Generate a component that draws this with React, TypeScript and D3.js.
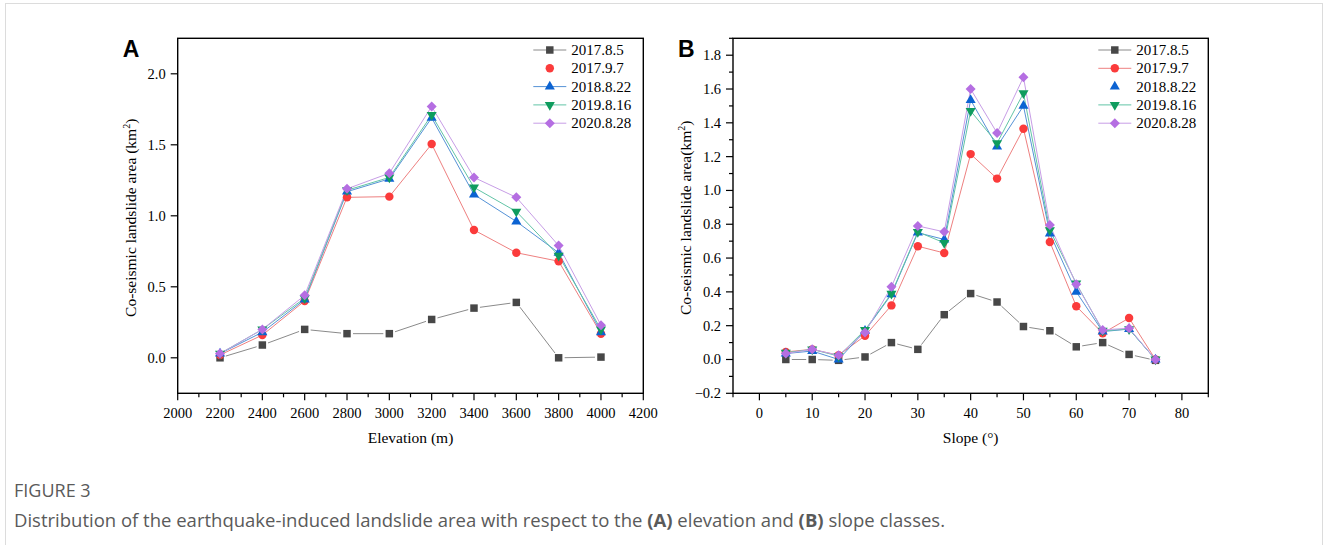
import * as d3 from 'd3';

// x categories
const elevation = [2200, 2400, 2600, 2800, 3000, 3200, 3400, 3600, 3800, 4000];
const slope = [5, 10, 15, 20, 25, 30, 35, 40, 45, 50, 55, 60, 65, 70, 75];

const dates = ['2017.8.5', '2017.9.7', '2018.8.22', '2019.8.16', '2020.8.28'];

// panel A: area by elevation (km2)
const elev20170805 = [0.0, 0.09, 0.2, 0.17, 0.17, 0.27, 0.35, 0.39, 0.0, 0.005];
const elev20170907 = [0.02, 0.16, 0.4, 1.13, 1.135, 1.505, 0.9, 0.74, 0.68, 0.17];
const elev20180822 = [0.03, 0.18, 0.41, 1.17, 1.26, 1.69, 1.15, 0.96, 0.74, 0.18];
const elev20190816 = [0.03, 0.2, 0.42, 1.18, 1.27, 1.71, 1.2, 1.03, 0.72, 0.2];
const elev20200828 = [0.03, 0.2, 0.44, 1.19, 1.3, 1.77, 1.27, 1.13, 0.79, 0.23];

// panel B: area by slope (km2)
const slope20170805 = [0.0, 0.0, -0.005, 0.015, 0.1, 0.06, 0.265, 0.39, 0.34, 0.195, 0.17, 0.075, 0.1, 0.03, -0.005];
const slope20170907 = [0.045, 0.06, 0.025, 0.14, 0.32, 0.67, 0.63, 1.215, 1.07, 1.365, 0.695, 0.315, 0.155, 0.245, 0.0];
const slope20180822 = [0.035, 0.05, 0.0, 0.17, 0.385, 0.75, 0.71, 1.535, 1.26, 1.5, 0.745, 0.4, 0.165, 0.18, 0.0];
const slope20190816 = [0.04, 0.06, 0.02, 0.175, 0.39, 0.755, 0.69, 1.47, 1.28, 1.575, 0.765, 0.45, 0.17, 0.18, 0.0];
const slope20200828 = [0.035, 0.06, 0.025, 0.16, 0.43, 0.79, 0.755, 1.6, 1.34, 1.67, 0.795, 0.445, 0.175, 0.185, 0.0];

const elevTicks = d3.range(2000, 4201, 200);
const slopeTicks = d3.range(0, 81, 10);

const styles = [
  { marker: 'square', fill: '#474747', line: '#8a8a8a', gap: 6 },
  { marker: 'circle', fill: '#fb3b3b', line: '#ee8080', gap: 0 },
  { marker: 'triUp', fill: '#0c63d2', line: '#5592d6', gap: 0 },
  { marker: 'triDown', fill: '#0f9c5e', line: '#62c4a6', gap: 0 },
  { marker: 'diamond', fill: '#b56ee2', line: '#c79de6', gap: 0 },
];

const serif = '"Liberation Serif", "Times New Roman", serif';
const sans = '"Open Sans", "Noto Sans", sans-serif';

const markerPath = (m: string) => {
  if (m === 'square') return d3.symbol(d3.symbolSquare, 56)();
  if (m === 'circle') return d3.symbol(d3.symbolCircle, 56)();
  if (m === 'diamond') return d3.symbol(d3.symbolSquare, 50)();
  return d3.symbol(d3.symbolTriangle, 44)();
};
const markerRot = (m: string) => (m === 'triDown' ? 180 : m === 'diamond' ? 45 : 0);

function Marker({ x, y, s }: any) {
  return (
    <path
      d={markerPath(s.marker) || ''}
      transform={`translate(${x},${y}) rotate(${markerRot(s.marker)})`}
      fill={s.fill}
    />
  );
}

function Panel(props: any) {
  const { left, right, top, bottom, xDomain, yDomain, xTicks, xMinor, yTicks, yMinor,
    xs, series, letter, xLabel, yLabel, noLine } = props;
  const x = d3.scaleLinear().domain(xDomain).range([left, right]);
  const y = d3.scaleLinear().domain(yDomain).range([bottom, top]);
  const fmt = d3.format('.1f');

  // segments, optionally pulled back from the markers
  const segments = (vals: number[], gap: number) => {
    const out: any[] = [];
    for (let i = 0; i < vals.length - 1; i++) {
      const x1 = x(xs[i]), y1 = y(vals[i]), x2 = x(xs[i + 1]), y2 = y(vals[i + 1]);
      const len = Math.hypot(x2 - x1, y2 - y1);
      const dx = (x2 - x1) / len, dy = (y2 - y1) / len;
      out.push([x1 + dx * gap, y1 + dy * gap, x2 - dx * gap, y2 - dy * gap]);
    }
    return out;
  };

  return (
    <g>
      <text x={left - 55} y={57} fontFamily='"Liberation Sans", Arial, sans-serif' fontWeight="bold" fontSize={23}>{letter}</text>

      {series.map((vals: number[], si: number) => (
        <g key={'l' + si}>
          {segments(vals, styles[si].gap).map((sg, i) => (
            <line key={i} x1={sg[0]} y1={sg[1]} x2={sg[2]} y2={sg[3]} stroke={styles[si].line} strokeWidth={1} />
          ))}
        </g>
      ))}
      {series.map((vals: number[], si: number) => (
        <g key={'m' + si}>
          {vals.map((v, i) => <Marker key={i} x={x(xs[i])} y={y(v)} s={styles[si]} />)}
        </g>
      ))}

      <rect x={left} y={top} width={right - left} height={bottom - top} fill="none" stroke="#000" strokeWidth={1.4} />

      {xMinor.map((t: number) => (
        <line key={'xm' + t} x1={x(t)} x2={x(t)} y1={bottom} y2={bottom + 4} stroke="#000" strokeWidth={1.2} />
      ))}
      {xTicks.map((t: number) => (
        <g key={'x' + t}>
          <line x1={x(t)} x2={x(t)} y1={bottom} y2={bottom + 7} stroke="#000" strokeWidth={1.2} />
          <text x={x(t)} y={bottom + 25} textAnchor="middle" fontFamily={serif} fontSize={14.5}>{t}</text>
        </g>
      ))}
      {yMinor.map((t: number) => (
        <line key={'ym' + t} x1={left - 4} x2={left} y1={y(t)} y2={y(t)} stroke="#000" strokeWidth={1.2} />
      ))}
      {yTicks.map((t: number) => (
        <g key={'y' + t}>
          <line x1={left - 7} x2={left} y1={y(t)} y2={y(t)} stroke="#000" strokeWidth={1.2} />
          <text x={left - 12} y={y(t) + 5} textAnchor="end" fontFamily={serif} fontSize={14.5}>{fmt(t)}</text>
        </g>
      ))}

      <text x={(left + right) / 2} y={bottom + 50} textAnchor="middle" fontFamily={serif} fontSize={15.5}>{xLabel}</text>
      <text transform={`translate(${left - 42},${(top + bottom) / 2 + 2}) rotate(-90)`} textAnchor="middle" fontFamily={serif} fontSize={15.5}>
        {yLabel}<tspan dy={-6} fontSize={10}>2</tspan><tspan dy={6}>)</tspan>
      </text>

      {dates.map((d, i) => {
        const ly = 50 + i * 18.3;
        return (
          <g key={d}>
            {noLine !== i && (
              <line x1={right - 110} x2={right - 77} y1={ly} y2={ly} stroke={styles[i].line} strokeWidth={1} />
            )}
            <Marker x={right - 93.5} y={ly} s={styles[i]} />
            <text x={right - 72} y={ly + 5} fontFamily={serif} fontSize={15}>{d}</text>
          </g>
        );
      })}
    </g>
  );
}

export default function App() {
  return (
    <svg width={1328} height={545} style={{ position: 'absolute', left: 0, top: 0, background: '#fff' }}>
      <rect x={5.5} y={3.5} width={1317} height={600} fill="#fff" stroke="#dcdcdc" strokeWidth={1} />
      <Panel
        left={177.7} right={643.3} top={38.3} bottom={393.3}
        xDomain={[2000, 4200]} yDomain={[-0.25, 2.25]}
        xTicks={elevTicks} xMinor={d3.range(2100, 4200, 200)}
        yTicks={d3.range(0, 2.01, 0.5)} yMinor={[]}
        xs={elevation}
        series={[elev20170805, elev20170907, elev20180822, elev20190816, elev20200828]}
        letter="A" xLabel="Elevation (m)" yLabel="Co-seismic landslide area (km"
        noLine={1}
      />
      <Panel
        left={733} right={1208.3} top={38.3} bottom={393.3}
        xDomain={[-5, 85]} yDomain={[-0.2, 1.9]}
        xTicks={slopeTicks} xMinor={d3.range(-5, 86, 10)}
        yTicks={d3.range(-0.2, 1.81, 0.2).map((v) => Math.round(v * 10) / 10)}
        yMinor={d3.range(-0.1, 1.91, 0.2).map((v) => Math.round(v * 10) / 10)}
        xs={slope}
        series={[slope20170805, slope20170907, slope20180822, slope20190816, slope20200828]}
        letter="B" xLabel="Slope (°)" yLabel="Co-seismic landslide area(km"
        noLine={2}
      />
      <text x={14} y={497} fontFamily={sans} fontSize={18} fill="#5a5a5a">FIGURE 3</text>
      <text x={14} y={527} fontFamily={sans} fontSize={18.5} fill="#5a5a5a">
        Distribution of the earthquake-induced landslide area with respect to the <tspan fontWeight="bold">(A)</tspan> elevation and <tspan fontWeight="bold">(B)</tspan> slope classes.
      </text>
    </svg>
  );
}
